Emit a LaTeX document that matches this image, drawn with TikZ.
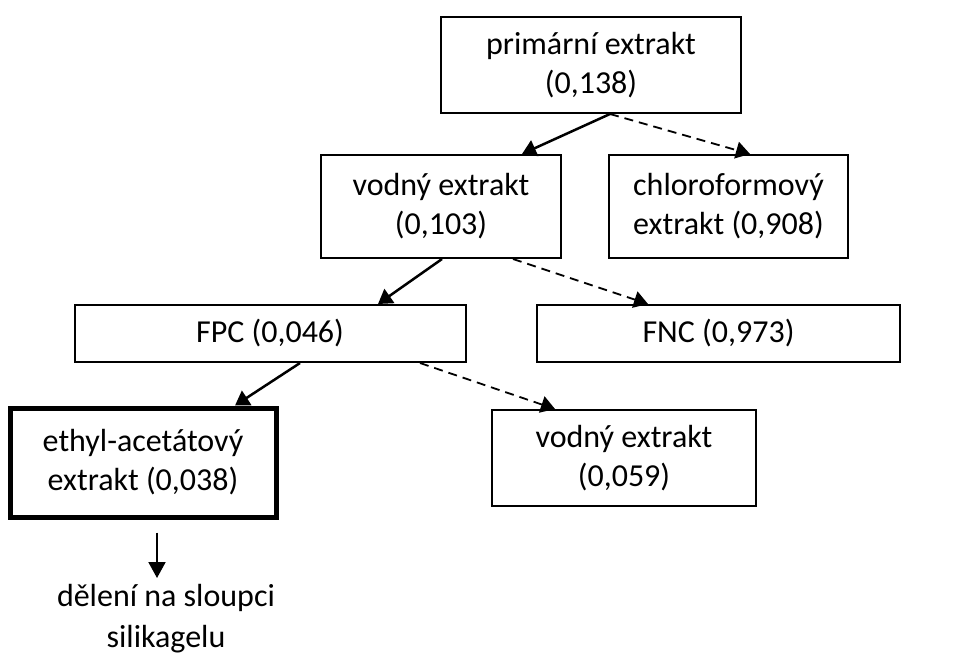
\documentclass[tikz,border=0pt]{standalone}
\usepackage{fontspec}
\setmainfont{Carlito}
\usetikzlibrary{arrows.meta}
\begin{document}
\begin{tikzpicture}[x=1pt,y=-1pt,
  box/.style={draw, line width=2pt, align=center, inner sep=0pt, font=\fontsize{32}{39}\selectfont},
  thickbox/.style={box, line width=5pt},
  solidarr/.style={line width=2.5pt, -{Triangle[width=17pt,length=14pt]}},
  dasharr/.style={line width=1.8pt, dashed, dash pattern=on 9pt off 6pt, -{Triangle[width=17pt,length=14pt]}}]
\useasboundingbox (0,0) rectangle (957,659);
\node[box, minimum width=300pt, minimum height=96pt] (prim) at (591,65) {primární extrakt\\(0,138)};
\node[box, minimum width=240pt, minimum height=103pt] (vod1) at (441,206.5) {vodný extrakt\\(0,103)};
\node[box, minimum width=239pt, minimum height=103pt] (chl) at (728.5,206.5) {chloroformový\\extrakt (0,908)};
\node[box, minimum width=391pt, minimum height=57pt] (fpc) at (270,333.5) {FPC (0,046)};
\node[box, minimum width=363pt, minimum height=57pt] (fnc) at (718.5,333.5) {FNC (0,973)};
\node[thickbox, minimum width=266pt, minimum height=109pt] (eth) at (143,462.5) {ethyl-acetátový\\extrakt (0,038)};
\node[box, minimum width=264pt, minimum height=96pt] (vod2) at (624,458) {vodný extrakt\\(0,059)};
\node[align=center, inner sep=0pt, font=\fontsize{32}{41}\selectfont] (txt) at (166,619) {dělení na sloupci\\silikagelu};
\coordinate (e) at (157,578);
\draw[solidarr] ([xshift=19pt]prim.south) -- ([xshift=81pt]vod1.north);
\draw[dasharr] ([xshift=19pt]prim.south) -- ([xshift=21.5pt]chl.north);
\draw[solidarr] ([xshift=1pt]vod1.south) -- ([xshift=108pt]fpc.north);
\draw[dasharr] ([xshift=72pt]vod1.south) -- ([xshift=-70.5pt]fnc.north);
\draw[solidarr] ([xshift=30pt]fpc.south) -- ([xshift=92pt]eth.north);
\draw[dasharr] ([xshift=150pt]fpc.south) -- ([xshift=-69pt]vod2.north);
\draw[line width=2pt, -{Triangle[width=17pt,length=16pt]}] ([xshift=14pt,yshift=-13pt]eth.south) -- (e);
\end{tikzpicture}
\end{document}
